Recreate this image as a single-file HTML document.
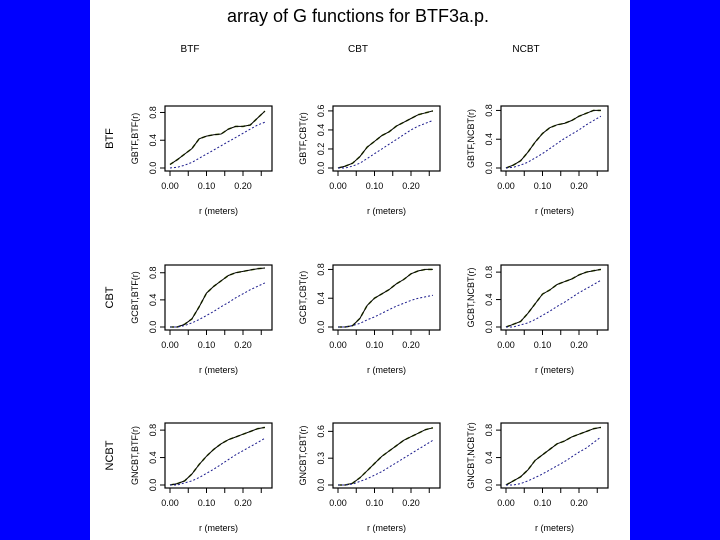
<!DOCTYPE html>
<html><head><meta charset="utf-8"><style>
body{margin:0;width:720px;height:540px;background:#0000ff;overflow:hidden;font-family:"Liberation Sans",sans-serif}
#page{position:absolute;left:90px;top:0;width:540px;height:540px;background:#fff}
svg{position:absolute;left:0;top:0}
</style></head><body>
<div id="page"></div>
<svg id="chart" width="720" height="540"></svg>
<script>
const rValues=[0,0.02,0.04,0.06,0.08,0.10,0.12,0.14,0.16,0.18,0.20,0.22,0.24,0.26];
const rowNames=["BTF","CBT","NCBT"];
const colNames=["BTF","CBT","NCBT"];
const yTicks=[[[0,0.4,0.8],[0,0.2,0.4,0.6],[0,0.4,0.8]],[[0,0.4,0.8],[0,0.4,0.8],[0,0.4,0.8]],[[0,0.4,0.8],[0,0.3,0.6],[0,0.4,0.8]]];
const yMax=[[0.85,0.62,0.82],[0.87,0.82,0.86],[0.86,0.66,0.86]];
const observed=[
[[0.05,0.12,0.2,0.28,0.42,0.46,0.48,0.49,0.56,0.6,0.6,0.62,0.72,0.82],
 [0,0.02,0.05,0.12,0.22,0.28,0.34,0.38,0.44,0.48,0.52,0.56,0.58,0.6],
 [0,0.04,0.1,0.22,0.36,0.48,0.56,0.6,0.62,0.66,0.72,0.76,0.8,0.8]],
[[0,0,0.04,0.12,0.3,0.5,0.6,0.68,0.76,0.8,0.82,0.84,0.86,0.87],
 [0,0,0.02,0.12,0.3,0.4,0.46,0.52,0.6,0.66,0.74,0.78,0.8,0.8],
 [0,0.04,0.08,0.2,0.34,0.48,0.54,0.62,0.66,0.7,0.76,0.8,0.82,0.84]],
[[0,0.02,0.06,0.16,0.3,0.42,0.52,0.6,0.66,0.7,0.74,0.78,0.82,0.84],
 [0,0,0.02,0.08,0.16,0.24,0.32,0.38,0.44,0.5,0.54,0.58,0.62,0.64],
 [0,0.06,0.12,0.22,0.36,0.44,0.52,0.6,0.64,0.7,0.74,0.78,0.82,0.84]]];
const theoretical=[
[[0,0.01,0.04,0.08,0.14,0.2,0.26,0.32,0.38,0.44,0.5,0.56,0.62,0.66],
 [0,0,0.02,0.05,0.1,0.15,0.2,0.25,0.3,0.35,0.4,0.44,0.47,0.5],
 [0,0.01,0.04,0.08,0.14,0.2,0.27,0.34,0.41,0.47,0.53,0.6,0.66,0.72]],
[[0,0,0.02,0.06,0.11,0.17,0.23,0.3,0.36,0.43,0.49,0.55,0.6,0.65],
 [0,0,0.02,0.05,0.1,0.14,0.19,0.24,0.29,0.33,0.37,0.4,0.42,0.44],
 [0,0,0.03,0.06,0.11,0.17,0.23,0.3,0.36,0.43,0.5,0.56,0.62,0.68]],
[[0,0,0.03,0.06,0.11,0.17,0.23,0.3,0.37,0.44,0.5,0.56,0.62,0.68],
 [0,0,0.01,0.04,0.07,0.11,0.15,0.2,0.25,0.3,0.35,0.4,0.45,0.5],
 [0,0,0.02,0.06,0.11,0.16,0.22,0.28,0.34,0.41,0.48,0.54,0.62,0.7]]];
const xTickVals=[0,0.05,0.1,0.15,0.2,0.25];
const xTickLabels=["0.00","0.10","0.20"];
const NS="http://www.w3.org/2000/svg";
const svg=document.getElementById("chart");
function mk(t,a,p){const e=document.createElementNS(NS,t);for(const k in a)e.setAttribute(k,a[k]);(p||svg).appendChild(e);return e;}
const title=mk("text",{x:358,y:22,"font-size":18,"text-anchor":"middle",fill:"#000"});title.textContent="array of G functions for BTF3a.p.";


const colX=[165,333,501],rowY=[106,265,423],W=107,H=65;
colNames.forEach((c,j)=>{const t=mk("text",{x:colX[j]+25,y:52,"font-size":10,"text-anchor":"middle"});t.textContent=c;

});
rowNames.forEach((r,i)=>{const y=rowY[i]+H/2;const t=mk("text",{x:113,y:y,"font-size":11,"text-anchor":"middle",transform:`rotate(-90 113 ${y})`});t.textContent=r;

});
for(let i=0;i<3;i++)for(let j=0;j<3;j++){
 const L=colX[j],T=rowY[i];
 const g=mk("g",{});
 
 
 const xs=r=>L+5+r*365;
 const y0=T+H-3,y1=T+3;const ys=v=>y0-(v/yMax[i][j])*(y0-y1);
 mk("rect",{x:L,y:T,width:W,height:H,fill:"none",stroke:"#000","stroke-width":1.2},g);
 xTickVals.forEach(v=>mk("line",{x1:xs(v),x2:xs(v),y1:T+H,y2:T+H+5,stroke:"#000"},g));
 xTickLabels.forEach(s=>{const t=mk("text",{x:xs(parseFloat(s)),y:T+H+18,"font-size":9,"text-anchor":"middle"},g);t.textContent=s;});
 const xl=mk("text",{x:L+W/2,y:T+H+43,"font-size":9,"text-anchor":"middle"},g);xl.textContent="r (meters)";
 yTicks[i][j].forEach(v=>{const y=ys(v);mk("line",{x1:L-5,x2:L,y1:y,y2:y,stroke:"#000"},g);
  const t=mk("text",{x:L-9,y:y,"font-size":9,"text-anchor":"middle",transform:`rotate(-90 ${L-9} ${y})`},g);t.textContent=v.toFixed(1);});
 const yl=mk("text",{x:L-27,y:T+H/2,"font-size":9,"text-anchor":"middle",transform:`rotate(-90 ${L-27} ${T+H/2})`},g);
 yl.textContent="G"+rowNames[i]+","+colNames[j]+"(r)";
 let d="";rValues.forEach((r,k)=>{d+=(k?"L":"M")+xs(r).toFixed(1)+","+ys(observed[i][j][k]).toFixed(1);});
 mk("path",{d:d,fill:"none",stroke:"#6b8e23","stroke-width":1.6,"stroke-dasharray":"4 3"},g);
 const o=mk("path",{d:d,fill:"none",stroke:"#000","stroke-width":1},g);
 
 
 let d2="";rValues.forEach((r,k)=>{d2+=(k?"L":"M")+xs(r).toFixed(1)+","+ys(theoretical[i][j][k]).toFixed(1);});
 const th=mk("path",{d:d2,fill:"none",stroke:"#1a1a8c","stroke-width":1,"stroke-dasharray":"2 2"},g);
 
 
}
</script></body></html>
